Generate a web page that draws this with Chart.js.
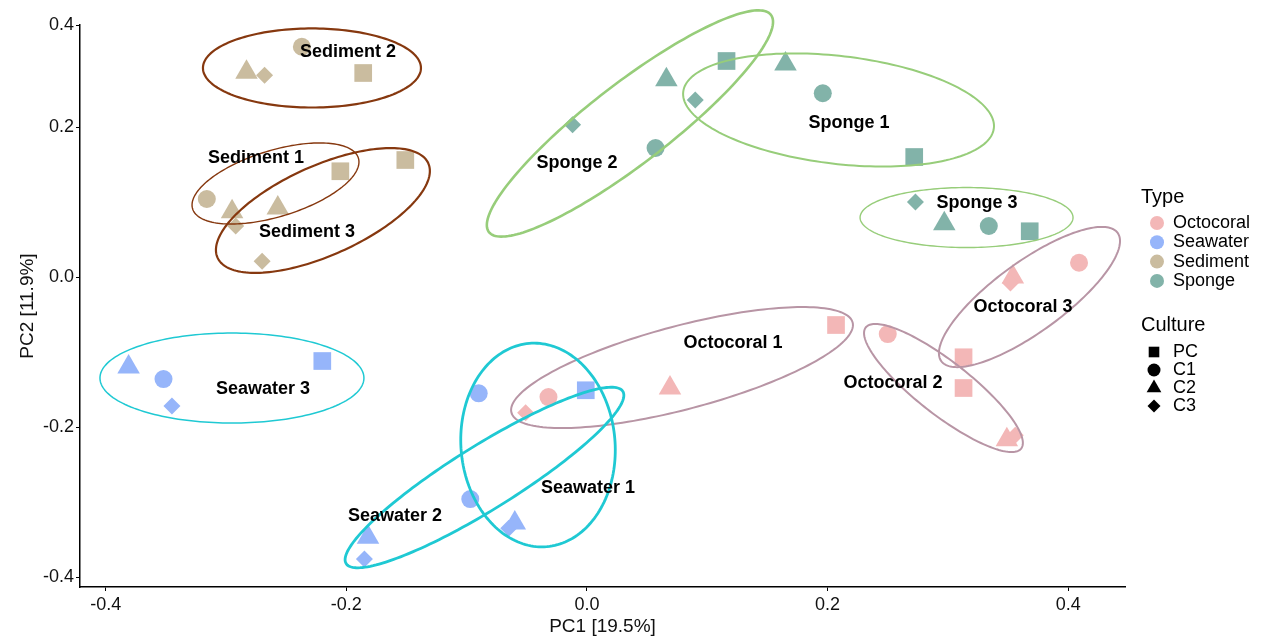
<!DOCTYPE html>
<html>
<head>
<meta charset="utf-8">
<script src="https://cdn.jsdelivr.net/npm/chart.js@4.4.1/dist/chart.umd.min.js"></script>
<style>
  html, body { margin: 0; padding: 0; background: #fff; }
  #wrap { width: 1263px; height: 638px; position: relative; }
</style>
</head>
<body>
<div id="wrap"><canvas id="pca"></canvas></div>
<script>
// PCA scores: PC1, PC2 and culture of each sample
const octoPC1  = [0.207, -0.032, 0.069, -0.051,   0.313, 0.250, 0.349, 0.356,   0.313, 0.409, 0.354, 0.352];
const octoPC2  = [-0.064, -0.160, -0.148, -0.181, -0.148, -0.076, -0.217, -0.211, -0.107, 0.019, 0.000, -0.008];
const octoCult = ['PC', 'C1', 'C2', 'C3', 'PC', 'C1', 'C2', 'C3', 'PC', 'C1', 'C2', 'C3'];

const seaPC1  = [-0.001, -0.090, -0.060, -0.065,   -0.097, -0.182, -0.185,   -0.220, -0.352, -0.381, -0.345];
const seaPC2  = [-0.151, -0.155, -0.328, -0.335,   -0.296, -0.347, -0.376,   -0.112, -0.136, -0.120, -0.172];
const seaCult = ['PC', 'C1', 'C2', 'C3', 'C1', 'C2', 'C3', 'PC', 'C1', 'C2', 'C3'];

const sedPC1  = [-0.205, -0.316, -0.295, -0.292,   -0.186, -0.237, -0.283, -0.268,   -0.151, -0.257, -0.270];
const sedPC2  = [0.141, 0.104, 0.087, 0.068,   0.272, 0.307, 0.273, 0.269,   0.156, 0.092, 0.021];
const sedCult = ['PC', 'C1', 'C2', 'C3', 'PC', 'C1', 'C2', 'C3', 'PC', 'C2', 'C3'];

const spoPC1  = [0.272, 0.196, 0.165, 0.090,   0.116, 0.057, 0.066, -0.012,   0.368, 0.334, 0.297, 0.273];
const spoPC2  = [0.160, 0.245, 0.284, 0.236,   0.288, 0.172, 0.263, 0.203,   0.061, 0.068, 0.071, 0.100];
const spoCult = ['PC', 'C1', 'C2', 'C3', 'PC', 'C1', 'C2', 'C3', 'PC', 'C1', 'C2', 'C3'];

const types = ['Octocoral', 'Seawater', 'Sediment', 'Sponge'];
const cultures = ['PC', 'C1', 'C2', 'C3'];

// group ellipses (data units): centre, two conjugate semi-axes
const groups   = ['Sediment 1', 'Sediment 2', 'Sediment 3', 'Sponge 1', 'Sponge 2', 'Sponge 3',
                  'Octocoral 1', 'Octocoral 2', 'Octocoral 3', 'Seawater 1', 'Seawater 2', 'Seawater 3'];
const groupType = ['Sediment', 'Sediment', 'Sediment', 'Sponge', 'Sponge', 'Sponge',
                   'Octocoral', 'Octocoral', 'Octocoral', 'Seawater', 'Seawater', 'Seawater'];
const ellCX = [-0.2589, -0.2286, -0.2195, 0.2091, 0.0357, 0.3155, 0.0790, 0.2963, 0.3678, -0.0407, -0.0852, -0.2951];
const ellCY = [0.1247, 0.2787, 0.0887, 0.2227, 0.2047, 0.0793, -0.1207, -0.1480, -0.0267, -0.2240, -0.2673, -0.1347];
const ellAX = [0.0689, 0.0906, 0.0876, 0.1291, 0.1172, 0.0885, 0.1418, 0.0646, 0.0733, 0.00739, 0.1150, 0.1097];
const ellAY = [0.0338, 0, 0.0629, -0.0243, 0.1448, 0, 0.0601, -0.0807, 0.0855, -0.1355, 0.1148, 0];
const ellBX = [0.00805, 0, 0.0152, -0.00523, 0.0203, 0, 0.00885, -0.01358, 0.0171, -0.0638, 0.01405, 0];
const ellBY = [-0.0422, 0.0527, -0.0545, -0.0714, -0.0423, 0.040, -0.0538, -0.0280, -0.0378, -0.00895, -0.0362, 0.060];

// where each group name sits (data units)
const labelX = [-0.2751, -0.1987, -0.2328, 0.2178, -0.0083, 0.3242, 0.1214, 0.2544, 0.3624, 0.0008, -0.1596, -0.2693];
const labelY = [0.1587, 0.300, 0.060, 0.2053, 0.152, 0.0987, -0.088, -0.1413, -0.040, -0.2813, -0.3187, -0.1493];

const xTicks = [-0.4, -0.2, 0.0, 0.2, 0.4];
const yTicks = [-0.4, -0.2, 0.0, 0.2];

// axis ranges
const X_MIN = -0.4214, X_MAX = 0.4472;
const Y_MIN = -0.4133, Y_MAX = 0.336;

// styles
const fill = { Octocoral: '#F3B7B7', Seawater: '#96B5FA', Sediment: '#CABC9F', Sponge: '#82B3A9' };
const ring = { Octocoral: '#B895A5', Seawater: '#1FC9D3', Sediment: '#86380F', Sponge: '#97CD7A' };
const ringWidth = {
  'Sediment 1': 1.4, 'Sediment 2': 2.2, 'Sediment 3': 2.2,
  'Sponge 1': 2, 'Sponge 2': 2.6, 'Sponge 3': 1.4,
  'Octocoral 1': 2, 'Octocoral 2': 2, 'Octocoral 3': 2,
  'Seawater 1': 2.8, 'Seawater 2': 2.8, 'Seawater 3': 1.5
};
const shape  = { PC: 'rect', C1: 'circle', C2: 'triangle', C3: 'rectRot' };
const radius = { PC: 12.5, C1: 9, C2: 13, C3: 8.5 };
const legendRadius = { PC: 7.5, C1: 6.5, C2: 8.5, C3: 6.5 };

const FONT = '"Liberation Sans", Arial, Helvetica, sans-serif';

function makeSet(name, xs, ys, cult){
  return {
    label: name,
    data: xs.map((v, i) => ({x: v, y: ys[i]})),
    pointStyle: cult.map(c => shape[c]),
    pointRadius: cult.map(c => radius[c]),
    pointHoverRadius: cult.map(c => radius[c]),
    backgroundColor: fill[name],
    borderWidth: 0,
    clip: false
  };
}

const ellipsePlugin = {
  id: 'groupEllipses',
  afterDatasetsDraw(chart){
    const {ctx} = chart;
    const xs = chart.scales.x, ys = chart.scales.y;
    ctx.save();
    groups.forEach((g, i) => {
      ctx.beginPath();
      for (let k = 0; k <= 180; k++){
        const t = k / 180 * Math.PI * 2;
        const px = xs.getPixelForValue(ellCX[i] + ellAX[i] * Math.cos(t) + ellBX[i] * Math.sin(t));
        const py = ys.getPixelForValue(ellCY[i] + ellAY[i] * Math.cos(t) + ellBY[i] * Math.sin(t));
        if (k) ctx.lineTo(px, py); else ctx.moveTo(px, py);
      }
      ctx.closePath();
      ctx.strokeStyle = ring[groupType[i]];
      ctx.lineWidth = ringWidth[g];
      ctx.stroke();
    });
    ctx.font = 'bold 18px ' + FONT;
    ctx.fillStyle = '#000';
    ctx.textAlign = 'center';
    ctx.textBaseline = 'middle';
    groups.forEach((g, i) => {
      ctx.fillText(g, xs.getPixelForValue(labelX[i]), ys.getPixelForValue(labelY[i]));
    });
    ctx.restore();
  }
};

const legendPlugin = {
  id: 'twoLegends',
  afterDraw(chart){
    const {ctx} = chart;
    ctx.save();
    ctx.textBaseline = 'middle';
    ctx.textAlign = 'left';
    ctx.fillStyle = '#000';
    ctx.font = '20px ' + FONT;
    ctx.fillText('Type', 1141, 197);
    ctx.fillText('Culture', 1141, 325);
    ctx.font = '18px ' + FONT;
    types.forEach((t, i) => {
      const y = 223 + i * 19.3;
      ctx.fillStyle = fill[t];
      Chart.helpers.drawPoint(ctx, {pointStyle: 'circle', radius: 7, rotation: 0, borderWidth: 0}, 1157, y);
      ctx.fillStyle = '#000';
      ctx.fillText(t, 1173, y);
    });
    cultures.forEach((c, i) => {
      const y = 352 + i * 18;
      ctx.fillStyle = '#000';
      Chart.helpers.drawPoint(ctx, {pointStyle: shape[c], radius: legendRadius[c], rotation: 0, borderWidth: 0}, 1154, y);
      ctx.fillText(c, 1173, y);
    });
    ctx.restore();
  }
};

function load(){
  Chart.defaults.font.family = FONT;
  Chart.defaults.color = '#111';

  new Chart(document.getElementById('pca'), {
    type: 'scatter',
    data: {
      datasets: [
        makeSet('Octocoral', octoPC1, octoPC2, octoCult),
        makeSet('Seawater', seaPC1, seaPC2, seaCult),
        makeSet('Sediment', sedPC1, sedPC2, sedCult),
        makeSet('Sponge', spoPC1, spoPC2, spoCult)
      ]
    },
    options: {
      responsive: true,
      maintainAspectRatio: false,
      animation: false,
      events: [],
      devicePixelRatio: 1,
      layout: { padding: { top: 25, right: 138, bottom: 0, left: 0 } },
      plugins: { legend: { display: false }, tooltip: { enabled: false } },
      scales: {
        x: {
          type: 'linear',
          min: X_MIN, max: X_MAX,
          afterBuildTicks: s => { s.ticks = xTicks.map(v => ({value: v})); },
          afterFit: s => { s.height = 51; },
          border: { display: true, color: '#000', width: 1.5 },
          grid: { display: true, drawOnChartArea: false, tickLength: 4, color: '#000', lineWidth: 1 },
          ticks: { font: { size: 18 }, padding: 3, color: '#111', callback: v => v.toFixed(1) },
          title: { display: true, text: 'PC1 [19.5%]', font: { size: 19 }, color: '#111', padding: { top: 0, bottom: 0 } }
        },
        y: {
          type: 'linear',
          min: Y_MIN, max: Y_MAX,
          afterBuildTicks: s => { s.ticks = yTicks.concat([Y_MAX]).map(v => ({value: v})); },
          afterFit: s => { s.width = 80; },
          border: { display: true, color: '#000', width: 1.5 },
          grid: { display: true, drawOnChartArea: false, tickLength: 4, color: '#000', lineWidth: 1 },
          ticks: { font: { size: 18 }, padding: 2, color: '#111',
                   callback: v => v === Y_MAX ? '0.4' : v.toFixed(1) },
          title: { display: true, text: 'PC2 [11.9%]', font: { size: 19 }, color: '#111', padding: { top: 16, bottom: 0 } }
        }
      }
    },
    plugins: [ellipsePlugin, legendPlugin]
  });
}

window.onload = () => { load(); };
</script>
</body>
</html>
